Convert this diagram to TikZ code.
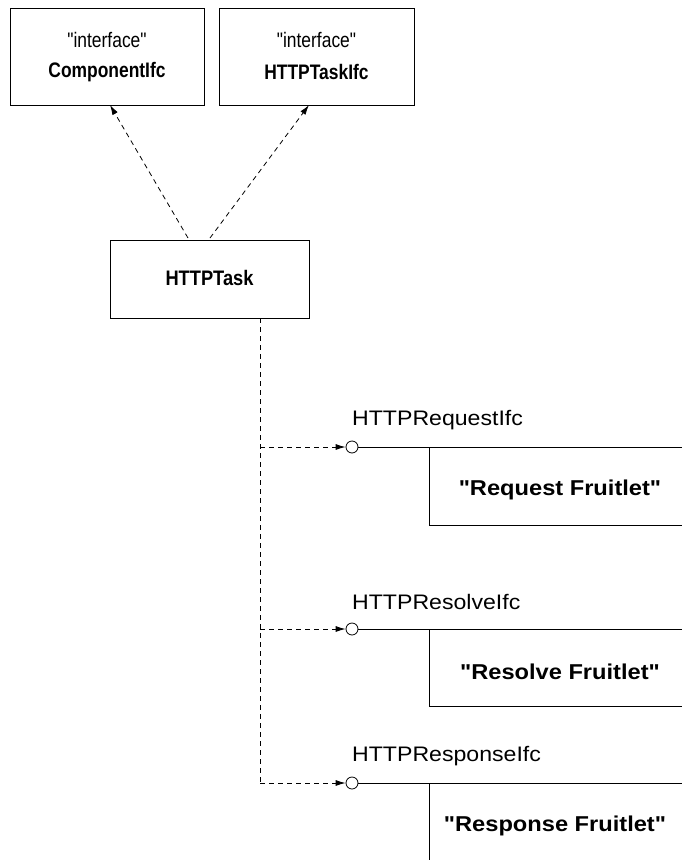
\documentclass[tikz,border=0pt]{standalone}
\usepackage{fontspec}
\usepackage{graphicx}
\newfontfamily\umlfont{Liberation Sans}
\usetikzlibrary{arrows.meta}
\newcommand{\narrowtext}[1]{\scalebox{0.83}[1]{#1}}
\newcommand{\widetext}[1]{\scalebox{1.1}[1]{#1}}
\tikzset{
  umlbox/.style={draw,line width=0.9pt,inner sep=0pt},
  dep/.style={draw,line width=0.8pt,dash pattern=on 5pt off 4pt},
  deparrow/.style={dep,-{Latex[length=10pt,width=6pt]}},
  solidline/.style={draw,line width=0.9pt},
  plain/.style={font=\umlfont\fontsize{21}{24}\selectfont,inner sep=0pt},
  title/.style={font=\umlfont\fontsize{21}{24}\selectfont\bfseries,inner sep=0pt},
  portlabel/.style={font=\umlfont\fontsize{21}{24}\selectfont,inner sep=0pt,anchor=west},
  fruit/.style={font=\umlfont\fontsize{21.5}{24}\selectfont\bfseries,inner sep=0pt},
  port/.style={circle,draw,line width=0.8pt,fill=white,minimum size=12pt,inner sep=0pt},
}
\begin{document}
\begin{tikzpicture}[x=1pt,y=-1pt]
\useasboundingbox (0,0) rectangle (682,860);

% interface boxes
\path[umlbox] (10,8) rectangle (204,105);
\path[umlbox] (219,8) rectangle (414,105);
\node[plain] (s1) at (107,40) {\narrowtext{"interface"}};
\node[title] (compifc) at (107,72) {\narrowtext{ComponentIfc}};
\node[plain] (s2) at (316.5,40) {\narrowtext{"interface"}};
\node[title] (taskifc) at (316.5,72) {\narrowtext{HTTPTaskIfc}};
\coordinate (c1) at (110,105);
\coordinate (c2) at (309,105);

% component box
\draw[umlbox] (110,240) rectangle (309,318);
\node[title] (task) at (209.5,278) {\scalebox{0.87}[1]{HTTPTask}};
\coordinate (t1) at (188,238);
\coordinate (t2) at (210,238);
\coordinate (tb) at (260,318);

% realisation arrows
\draw[deparrow] (t1) -- (c1);
\draw[deparrow] (t2) -- (c2);

% dependency spine
\coordinate (sp3) at (260,783);
\draw[dep] (tb) -- (sp3);

% provided interfaces and fruitlets
\foreach \y/\lab/\txt/\nm/\fx in {447/HTTPRequestIfc/"Request Fruitlet"/req/560,
                                  629/HTTPResolveIfc/"Resolve Fruitlet"/res/560,
                                  783/HTTPResponseIfc/"Response Fruitlet"/rsp/555}{
  \coordinate (sp-\nm) at (260,\y);
  \node[port] (p-\nm) at (352,\y) {};
  \coordinate (e-\nm) at (682,\y);
  \draw[deparrow] (sp-\nm) -- (p-\nm.west);
  \draw[solidline] (p-\nm.east) -- (e-\nm);
  \node[portlabel] (l-\nm) at (352,\y-27) {\widetext{\lab}};
  \node[fruit] (f-\nm) at (\fx,\y+43) {\widetext{\txt}};
}
\draw[solidline] (429,447) -- (429,525) -- (682,525);
\draw[solidline] (429,629) -- (429,706) -- (682,706);
\draw[solidline] (429,783) -- (429,860);
\end{tikzpicture}
\end{document}
